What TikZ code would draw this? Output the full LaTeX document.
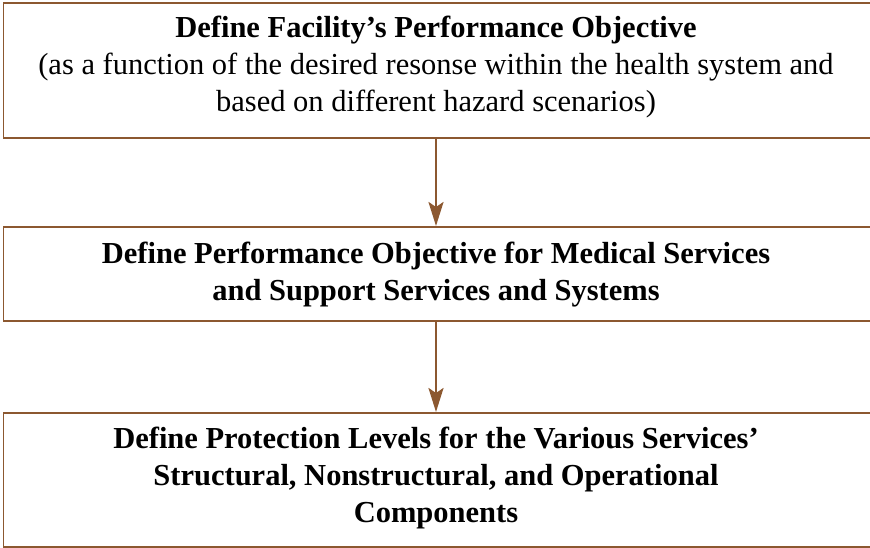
\documentclass[tikz,border=0pt]{standalone}
\usepackage{fontspec}
\setmainfont{Liberation Serif}
\usetikzlibrary{arrows.meta}
\definecolor{brn}{RGB}{140,88,48}
\begin{document}
\begin{tikzpicture}[x=1pt,y=1pt,
  boxstyle/.style={draw=brn,line width=1.6pt,rectangle,inner sep=0pt},
  txt/.style={align=center,inner sep=0pt,font=\fontsize{30.5}{37}\selectfont},
  arr/.style={draw=brn,line width=2.4pt,-{Stealth[length=24pt,width=15pt,inset=5pt]}}]
\useasboundingbox (0,0) rectangle (870,547);
\clip (0,0) rectangle (870,547);
% boxes (y = 547 - pixel y)
\node[boxstyle,minimum width=898pt,minimum height=135pt,anchor=north west] (b1) at (2.5,545) {};
\node[boxstyle,minimum width=898pt,minimum height=94pt,anchor=north west] (b2) at (2.5,321) {};
\node[boxstyle,minimum width=898pt,minimum height=134pt,anchor=north west] (b3) at (2.5,135) {};
% texts
\node[txt] (t1) at (436,479.5) {\textbf{Define Facility’s Performance Objective}\\(as a function of the desired resonse within the health system and\\based on different hazard scenarios)};
\node[txt] (t2) at (436,272.5) {\textbf{Define Performance Objective for Medical Services}\\\textbf{and Support Services and Systems}};
\node[txt] (t3) at (436,69) {\textbf{Define Protection Levels for the Various Services’}\\\textbf{Structural, Nonstructural, and Operational}\\\textbf{Components}};
% arrows
\draw[arr] (t1 |- b1.south) -- (t1 |- b2.north);
\draw[arr] (t2 |- b2.south) -- (t2 |- b3.north);
\end{tikzpicture}
\end{document}
